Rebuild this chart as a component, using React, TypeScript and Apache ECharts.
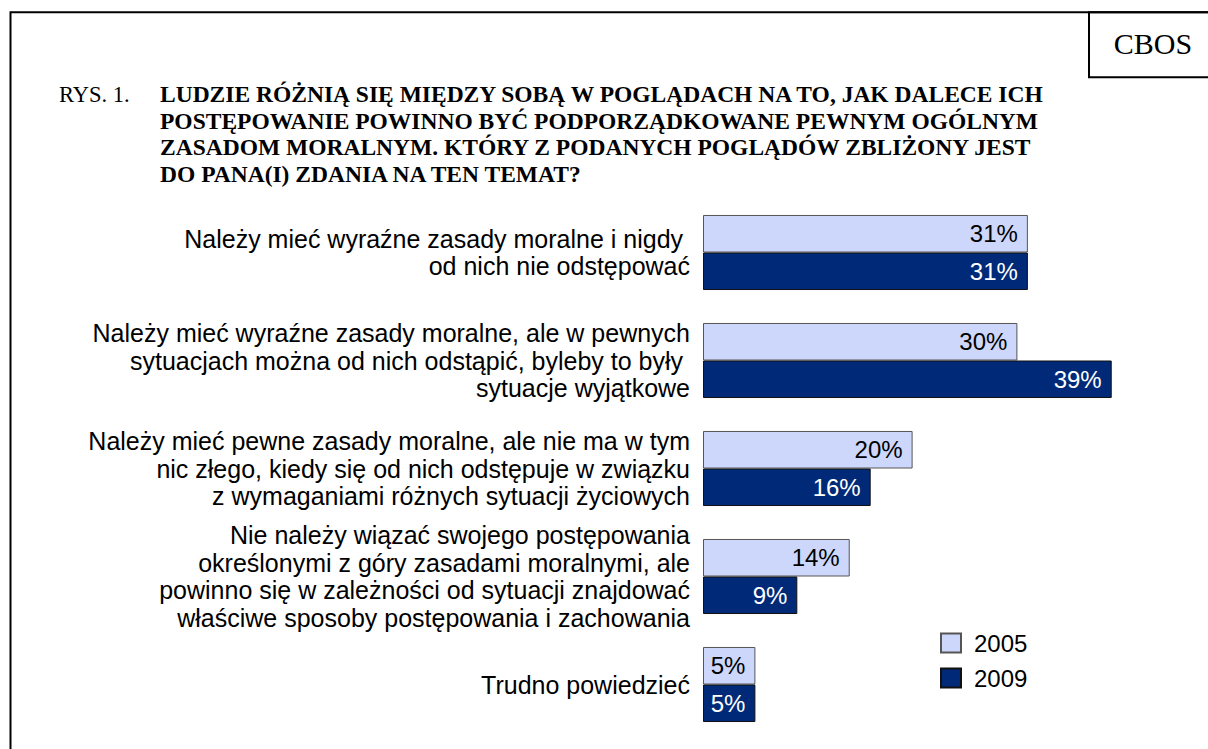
import React, { useEffect, useRef } from "react";
import * as echarts from "echarts";

const categories = [
  "Należy mieć wyraźne zasady moralne i nigdy \nod nich nie odstępować",
  "Należy mieć wyraźne zasady moralne, ale w pewnych\nsytuacjach można od nich odstąpić, byleby to były \nsytuacje wyjątkowe",
  "Należy mieć pewne zasady moralne, ale nie ma w tym\nnic złego, kiedy się od nich odstępuje w związku\nz wymaganiami różnych sytuacji życiowych",
  "Nie należy wiązać swojego postępowania\nokreślonymi z góry zasadami moralnymi, ale\npowinno się w zależności od sytuacji znajdować\nwłaściwe sposoby postępowania i zachowania",
  "Trudno powiedzieć",
];
const seriesNames = ["2005", "2009"];
const values2005 = [31, 30, 20, 14, 5];
const values2009 = [31, 39, 16, 9, 5];

const titlePrefix = "RYS. 1.";
const titleLines = [
  "LUDZIE RÓŻNIĄ SIĘ MIĘDZY SOBĄ W POGLĄDACH NA TO, JAK DALECE ICH",
  "POSTĘPOWANIE POWINNO BYĆ PODPORZĄDKOWANE PEWNYM OGÓLNYM",
  "ZASADOM MORALNYM. KTÓRY Z PODANYCH POGLĄDÓW ZBLIŻONY JEST",
  "DO PANA(I) ZDANIA NA TEN TEMAT?",
];
const sourceLabel = "CBOS";

const SANS = "'Liberation Sans', Arial, sans-serif";
const SERIF = "'Liberation Serif', 'Times New Roman', serif";

export default function App() {
  const ref = useRef<HTMLDivElement>(null);
  useEffect(() => {
    if (!ref.current) return;
    const chart = echarts.init(ref.current, undefined, { renderer: "svg" });
    const graphics: any[] = [
      {
        type: "rect",
        silent: true,
        shape: { x: 10.5, y: 12.3, width: 1400, height: 1000 },
        style: { fill: "none", stroke: "#000", lineWidth: 2 },
      },
      {
        type: "rect",
        silent: true,
        shape: { x: 1089, y: 12.3, width: 300, height: 65 },
        style: { fill: "none", stroke: "#000", lineWidth: 2 },
      },
      {
        type: "text",
        x: 1153,
        y: 43,
        style: {
          text: sourceLabel,
          font: `30px ${SERIF}`,
          fill: "#000",
          align: "center",
          verticalAlign: "middle",
        },
      },
      {
        type: "text",
        x: 59,
        y: 94,
        style: {
          text: titlePrefix,
          font: `22.5px ${SERIF}`,
          fill: "#000",
          align: "left",
          verticalAlign: "middle",
        },
      },
    ];
    titleLines.forEach((t, i) => {
      graphics.push({
        type: "text",
        x: 160,
        y: 94 + i * 26.5,
        style: {
          text: t,
          font: `bold 23.5px ${SERIF}`,
          fill: "#000",
          align: "left",
          verticalAlign: "middle",
        },
      });
    });

    chart.setOption({
      animation: false,
      backgroundColor: "#fff",
      grid: { left: 703, top: 198.5, width: 419.2, height: 540, containLabel: false },
      xAxis: { type: "value", min: 0, max: 40, show: false },
      yAxis: {
        type: "category",
        data: categories,
        inverse: true,
        axisLine: { show: false },
        axisTick: { show: false },
        splitLine: { show: false },
        axisLabel: {
          margin: 13,
          fontSize: 25,
          fontFamily: SANS,
          color: "#000",
          lineHeight: 27.5,
          align: "right",
        },
      },
      legend: {
        orient: "vertical",
        left: 940,
        top: 630,
        padding: 0,
        itemWidth: 20,
        itemHeight: 19,
        itemGap: 9,
        icon: "rect",
        data: seriesNames,
        textStyle: {
          fontSize: 24,
          fontFamily: SANS,
          color: "#000",
          lineHeight: 26,
          padding: [0, 0, 0, 8],
        },
      },
      series: [
        {
          name: seriesNames[0],
          type: "bar",
          data: values2005,
          barGap: "0%",
          barCategoryGap: "30.5%",
          itemStyle: { color: "#CDD7FB", borderColor: "#555", borderWidth: 1 },
          label: {
            show: true,
            position: "insideRight",
            distance: 10,
            formatter: "{c}%",
            fontSize: 24,
            fontFamily: SANS,
            color: "#000",
          },
        },
        {
          name: seriesNames[1],
          type: "bar",
          data: values2009,
          barGap: "0%",
          barCategoryGap: "30.5%",
          itemStyle: { color: "#002A78", borderColor: "#111", borderWidth: 1 },
          label: {
            show: true,
            position: "insideRight",
            distance: 10,
            formatter: "{c}%",
            fontSize: 24,
            fontFamily: SANS,
            color: "#fff",
          },
        },
      ],
      graphic: graphics,
    });
    return () => chart.dispose();
  }, []);
  return (
    <div
      ref={ref}
      style={{ position: "absolute", left: 0, top: 0, width: 1208, height: 749 }}
    />
  );
}
